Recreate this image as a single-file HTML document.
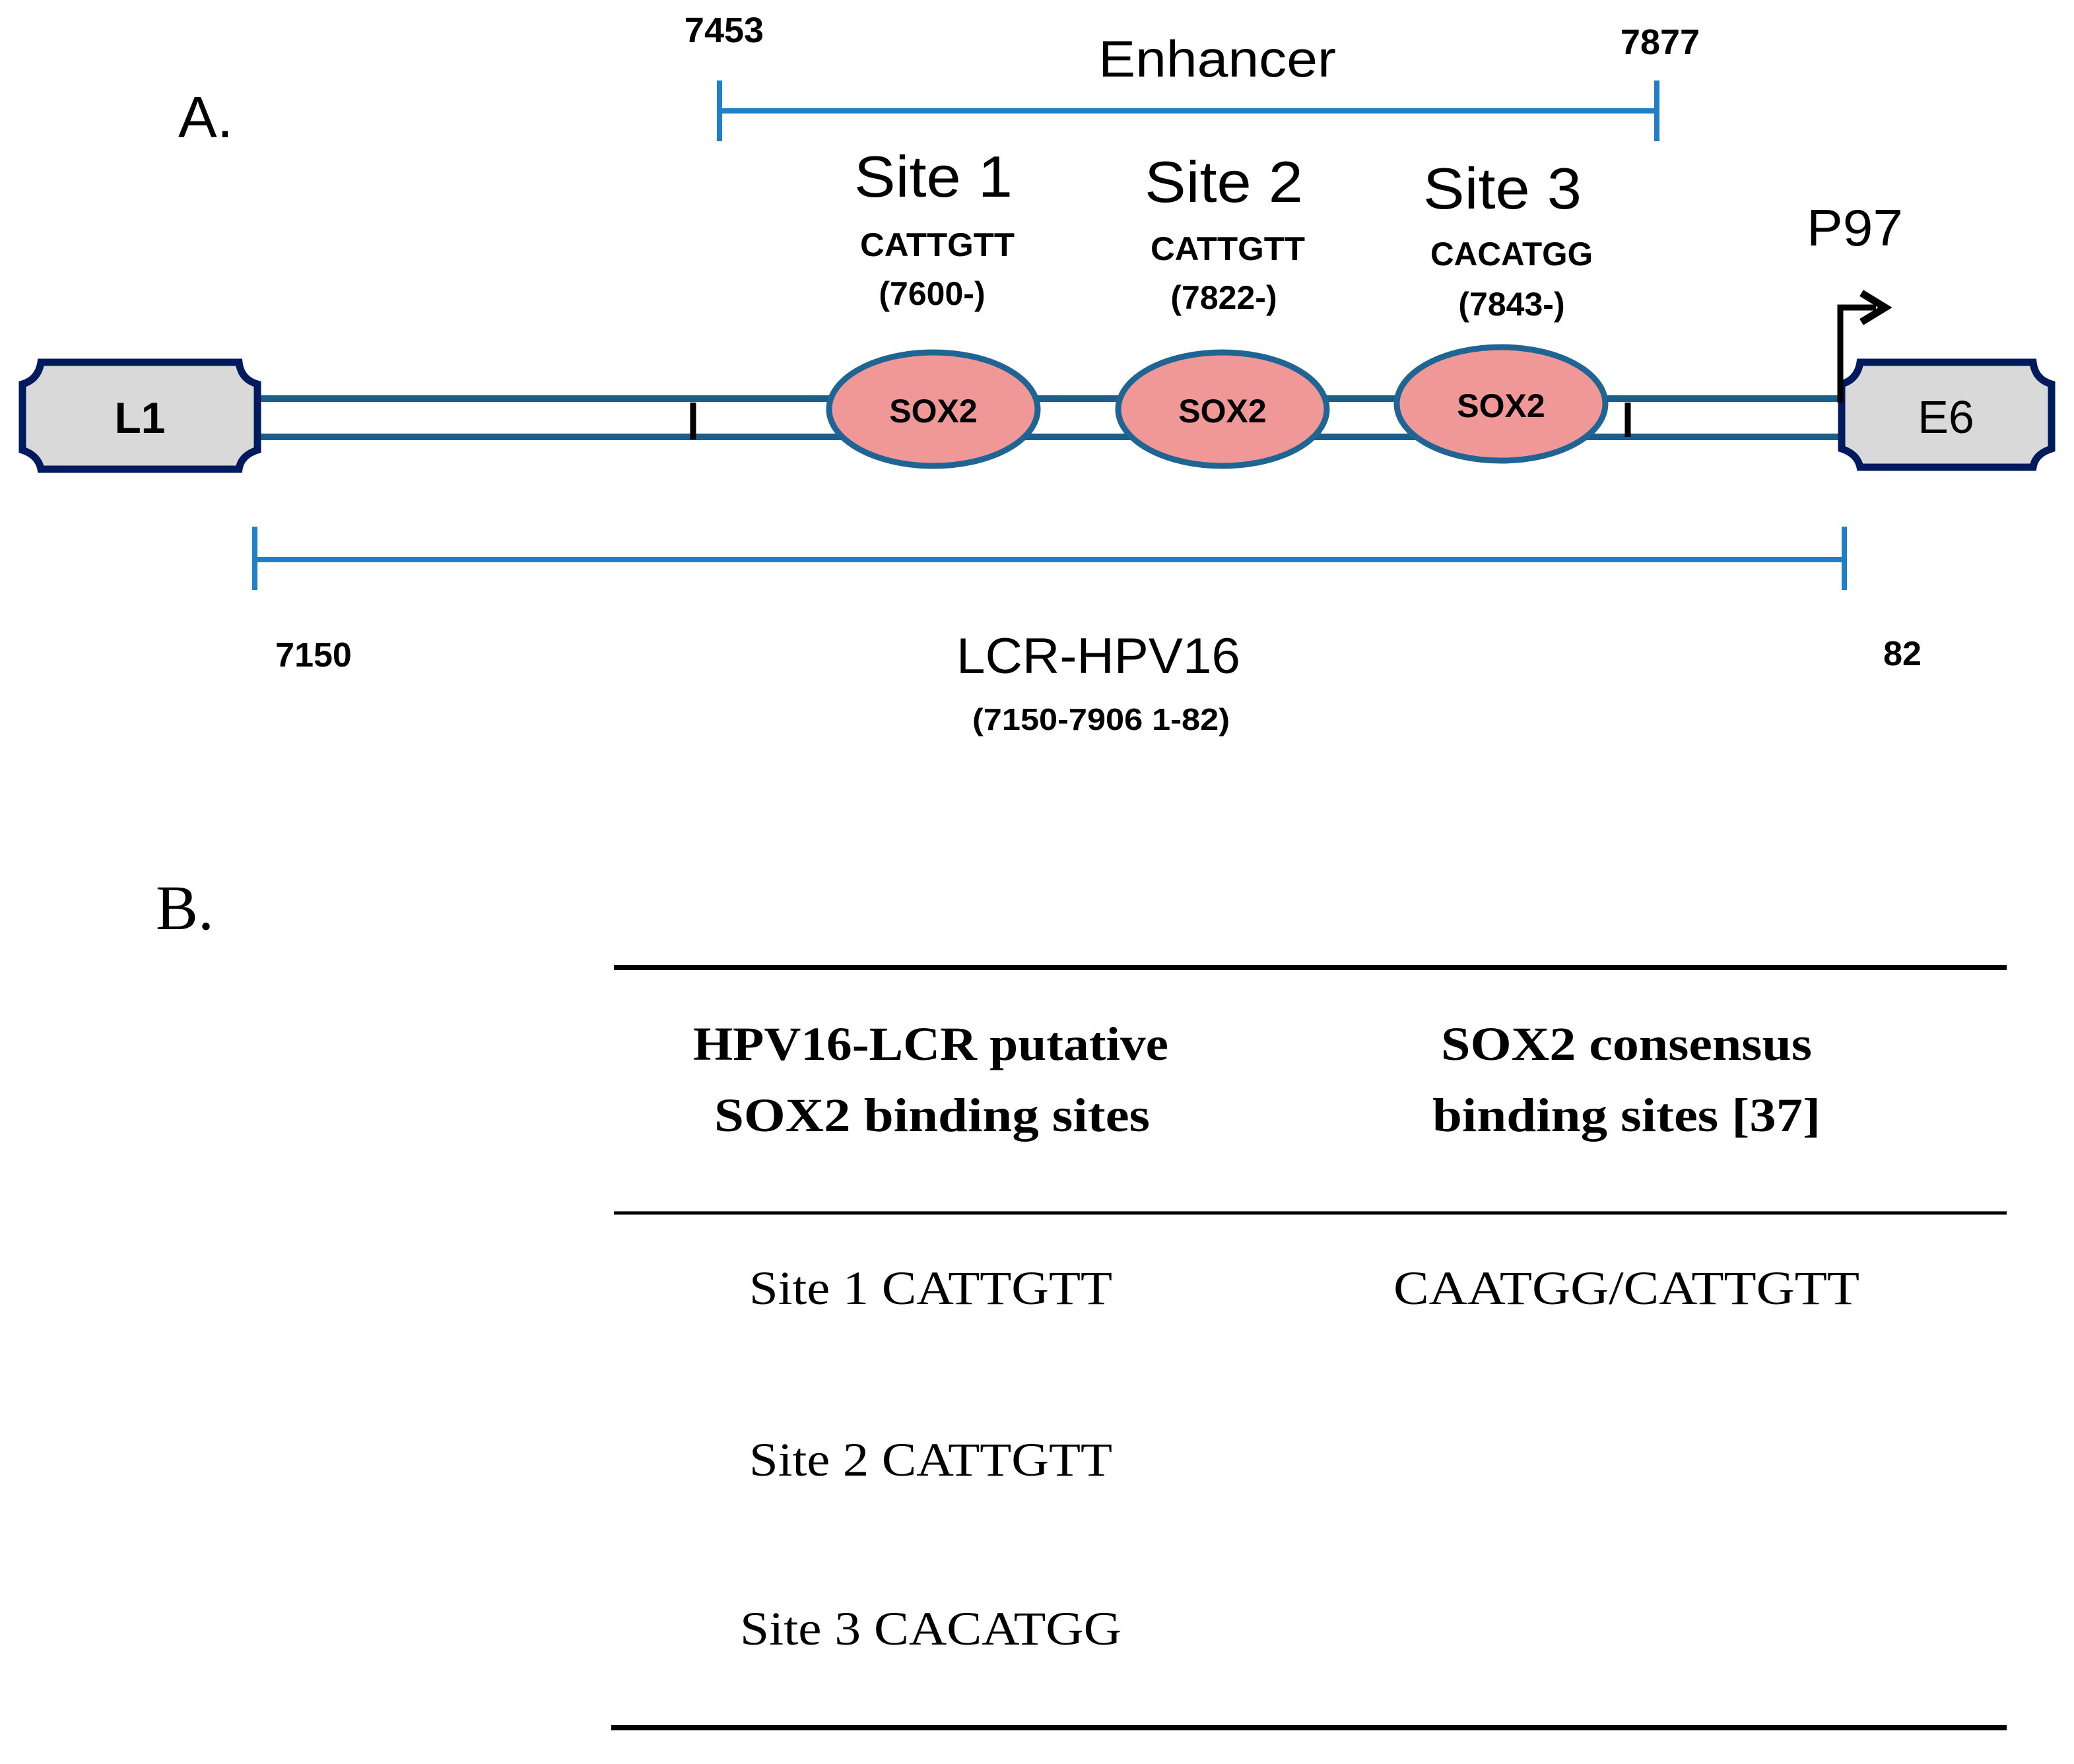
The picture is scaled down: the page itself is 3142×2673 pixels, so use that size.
<!DOCTYPE html>
<html><head><meta charset="utf-8"><style>
html,body{margin:0;padding:0;background:#fff;}
svg{display:block;}
.s{font-family:"Liberation Sans",sans-serif;}
.r{font-family:"Liberation Serif",serif;}
</style></head><body>
<svg width="3142" height="2673" viewBox="0 0 3142 2673" xmlns="http://www.w3.org/2000/svg">
<rect width="3142" height="2673" fill="#fff"/>
<text x="270" y="208" class="s" font-size="88" fill="#000">A.</text>
<g stroke="#1f80c6" stroke-width="8" fill="none">
<line x1="1090" y1="168" x2="2510" y2="168"/>
<line x1="1090" y1="122" x2="1090" y2="214"/>
<line x1="2510" y1="122" x2="2510" y2="214"/>
</g>
<text x="1097" y="64" class="s" font-size="54" font-weight="bold" text-anchor="middle">7453</text>
<text x="2515" y="82" class="s" font-size="54" font-weight="bold" text-anchor="middle">7877</text>
<text x="1844" y="116" class="s" font-size="78" text-anchor="middle" textLength="360" lengthAdjust="spacingAndGlyphs">Enhancer</text>
<g class="s" text-anchor="middle">
<text x="1414" y="298" font-size="88" textLength="240" lengthAdjust="spacingAndGlyphs">Site 1</text>
<text x="1420" y="388" font-size="50" font-weight="bold" textLength="234" lengthAdjust="spacingAndGlyphs">CATTGTT</text>
<text x="1412" y="462" font-size="50" font-weight="bold">(7600-)</text>
<text x="1854" y="306" font-size="88" textLength="240" lengthAdjust="spacingAndGlyphs">Site 2</text>
<text x="1860" y="394" font-size="50" font-weight="bold" textLength="234" lengthAdjust="spacingAndGlyphs">CATTGTT</text>
<text x="1854" y="468" font-size="50" font-weight="bold">(7822-)</text>
<text x="2276" y="316" font-size="88" textLength="240" lengthAdjust="spacingAndGlyphs">Site 3</text>
<text x="2290" y="402" font-size="50" font-weight="bold" textLength="246" lengthAdjust="spacingAndGlyphs">CACATGG</text>
<text x="2290" y="478" font-size="50" font-weight="bold">(7843-)</text>
<text x="2810" y="372" font-size="78" textLength="146" lengthAdjust="spacingAndGlyphs">P97</text>
</g>
<g stroke="#1a5e8e" stroke-width="10">
<line x1="388" y1="604" x2="2790" y2="604"/>
<line x1="388" y1="662" x2="2790" y2="662"/>
</g>
<g stroke="#000" stroke-width="9">
<line x1="1050" y1="610" x2="1050" y2="666"/>
<line x1="2466" y1="610" x2="2466" y2="662"/>
</g>
<g fill="#d9d9d9" stroke="#001a5e" stroke-width="11">
<path d="M62 549 H362 Q365 575 390 582 V682 Q365 690 362 711 H62 Q58 690 34 682 V582 Q58 575 62 549 Z"/>
<path d="M2818 549 H3080 Q3083 575 3108 582 V680 Q3083 688 3080 708 H2818 Q2814 688 2790 680 V582 Q2814 575 2818 549 Z"/>
</g>
<text x="212" y="656" class="s" font-size="66" font-weight="bold" text-anchor="middle">L1</text>
<text x="2948" y="656" class="s" font-size="70" text-anchor="middle">E6</text>
<path d="M2788 610 V466 H2842" stroke="#000" stroke-width="9" fill="none"/>
<path d="M2820 444 L2856 466 L2820 488" stroke="#000" stroke-width="11" fill="none"/>
<g fill="#f09898" stroke="#1f6594" stroke-width="9">
<ellipse cx="1414" cy="620" rx="158" ry="86"/>
<ellipse cx="1852" cy="620" rx="158" ry="86"/>
<ellipse cx="2274" cy="612" rx="158" ry="86"/>
</g>
<g class="s" font-size="50" font-weight="bold" text-anchor="middle">
<text x="1414" y="640">SOX2</text>
<text x="1852" y="640">SOX2</text>
<text x="2274" y="632">SOX2</text>
</g>
<g stroke="#1f80c6" stroke-width="8" fill="none">
<line x1="386" y1="848" x2="2794" y2="848"/>
<line x1="386" y1="798" x2="386" y2="894"/>
<line x1="2794" y1="798" x2="2794" y2="894"/>
</g>
<text x="475" y="1010" class="s" font-size="52" font-weight="bold" text-anchor="middle">7150</text>
<text x="2882" y="1008" class="s" font-size="52" font-weight="bold" text-anchor="middle">82</text>
<text x="1664" y="1020" class="s" font-size="76" text-anchor="middle" textLength="430" lengthAdjust="spacingAndGlyphs">LCR-HPV16</text>
<text x="1668" y="1106" class="s" font-size="46" font-weight="bold" text-anchor="middle" textLength="390" lengthAdjust="spacingAndGlyphs">(7150-7906  1-82)</text>
<text x="236" y="1408" class="r" font-size="96">B.</text>
<g stroke="#000">
<line x1="930" y1="1466" x2="3040" y2="1466" stroke-width="8"/>
<line x1="930" y1="1838" x2="3040" y2="1838" stroke-width="5"/>
<line x1="926" y1="2618" x2="3040" y2="2618" stroke-width="8"/>
</g>
<g class="r" text-anchor="middle" font-size="72">
<text x="1410" y="1606" font-weight="bold" textLength="720" lengthAdjust="spacingAndGlyphs">HPV16-LCR putative</text>
<text x="1412" y="1714" font-weight="bold" textLength="660" lengthAdjust="spacingAndGlyphs">SOX2 binding sites</text>
<text x="2464" y="1606" font-weight="bold" textLength="562" lengthAdjust="spacingAndGlyphs">SOX2 consensus</text>
<text x="2464" y="1714" font-weight="bold" textLength="588" lengthAdjust="spacingAndGlyphs">binding sites [37]</text>
<text x="1410" y="1976" textLength="550" lengthAdjust="spacingAndGlyphs">Site 1 CATTGTT</text>
<text x="2464" y="1976" textLength="706" lengthAdjust="spacingAndGlyphs">CAATGG/CATTGTT</text>
<text x="1410" y="2236" textLength="550" lengthAdjust="spacingAndGlyphs">Site 2 CATTGTT</text>
<text x="1410" y="2492" textLength="578" lengthAdjust="spacingAndGlyphs">Site 3 CACATGG</text>
</g>
</svg>
</body></html>
